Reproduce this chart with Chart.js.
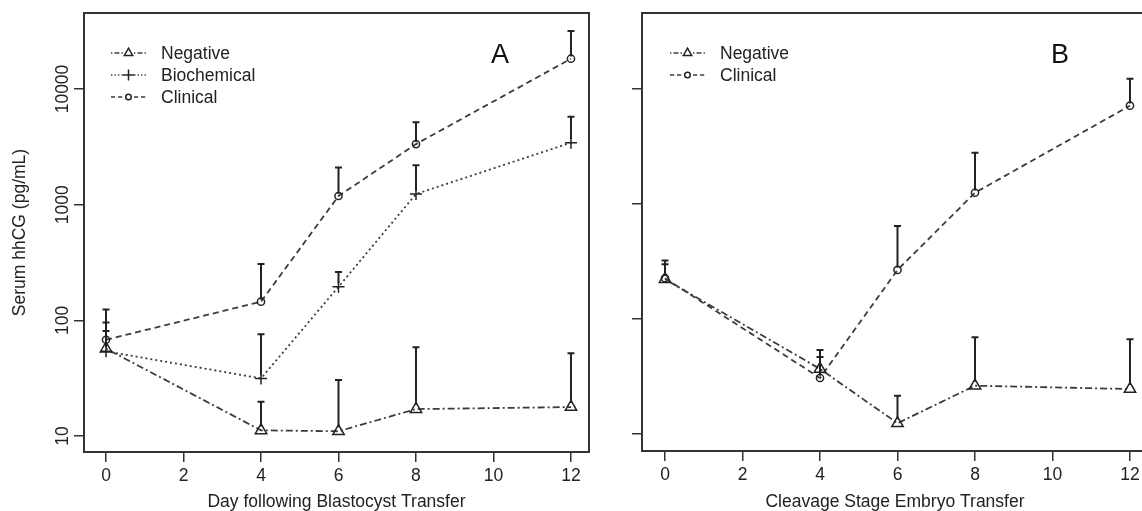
<!DOCTYPE html>
<html><head><meta charset="utf-8">
<script src="https://cdn.jsdelivr.net/npm/chart.js@4"></script>
<style>
html,body{margin:0;padding:0;background:#fff;overflow:hidden;width:1142px;height:511px;}
#a{position:absolute;left:0;top:0;}
#b{position:absolute;left:600px;top:0;}
</style></head><body>
<canvas id="a" width="600" height="511"></canvas>
<canvas id="b" width="560" height="511"></canvas>
<script>
// ---- data ----
const days = [0, 4, 6, 8, 12];
const xTicks = [0, 2, 4, 6, 8, 10, 12];
const yTicks = [10, 100, 1000, 10000];

// Panel A (blastocyst transfer)
const negA    = [57, 11.2, 11.0, 17.1, 17.8];
const negAErr = [81, 19.8, 30.5, 58.5, 51.9];
const bioA    = [54, 31.5, 195, 1236, 3435];
const bioAErr = [96, 75.7, 262, 2190, 5760];
const cliA    = [68, 145, 1188, 3340, 18270];
const cliAErr = [124, 307, 2100, 5150, 31700];

// Panel B (cleavage stage embryo transfer)
const negB    = [222, 36.8, 12.4, 26.3, 24.6];
const negBErr = [300, 53.7, 21.5, 69.3, 66.5];
const cliB    = [226, 30.7, 267, 1253, 7160];
const cliBErr = [322, 46.7, 644, 2790, 12300];

// ---- styling ----
const FONT = '"Liberation Sans", Arial, sans-serif';
const INK = '#222';
const LINE = '#3c3c3c';
const FRAME = '#333';
const STY = {
  Negative:    {pointStyle: 'triangle', radius: 6.6, legR: 4.8, dash: [2, 3, 7, 3]},
  Biochemical: {pointStyle: 'cross',    radius: 6,   legR: 5.5, dash: [2, 3]},
  Clinical:    {pointStyle: 'circle',   radius: 3.6, legR: 2.8, dash: [6, 4]}
};

function ds(name, vals, errs) {
  const s = STY[name];
  return {
    label: name,
    data: days.map((d, i) => ({x: d, y: vals[i]})),
    err: errs,
    borderColor: LINE, borderWidth: 1.8, borderDash: s.dash,
    pointStyle: s.pointStyle, pointRadius: s.radius, pointHoverRadius: s.radius,
    pointBorderColor: INK, pointBorderWidth: 1.5,
    pointBackgroundColor: 'rgba(0,0,0,0)',
    fill: false, tension: 0
  };
}

const framePlugin = {
  id: 'frame',
  afterDraw(chart) {
    const {ctx, chartArea: a} = chart;
    ctx.save();
    ctx.strokeStyle = FRAME; ctx.lineWidth = 2;
    ctx.strokeRect(a.left, a.top, a.right - a.left, a.bottom - a.top);
    ctx.restore();
  }
};

const errPlugin = {
  id: 'errbars',
  afterDatasetsDraw(chart) {
    const {ctx} = chart;
    const xs = chart.scales.x, ys = chart.scales.y;
    ctx.save();
    ctx.strokeStyle = INK; ctx.lineWidth = 2; ctx.setLineDash([]);
    chart.data.datasets.forEach(d => {
      d.err.forEach((e, i) => {
        const x = xs.getPixelForValue(days[i]);
        const y0 = ys.getPixelForValue(d.data[i].y) - d.pointRadius * 0.6;
        const y1 = ys.getPixelForValue(e);
        ctx.beginPath();
        ctx.moveTo(x, y0); ctx.lineTo(x, y1);
        ctx.moveTo(x - 3.5, y1); ctx.lineTo(x + 3.5, y1);
        ctx.stroke();
      });
    });
    ctx.restore();
  }
};

function decorPlugin(cfg) {
  return {
    id: 'decor',
    afterDraw(chart) {
      const {ctx} = chart;
      ctx.save();
      // legend
      cfg.legend.forEach((name, i) => {
        const s = STY[name];
        const y = cfg.legY + i * 22;
        ctx.strokeStyle = LINE; ctx.lineWidth = 1.5;
        ctx.setLineDash(s.dash.map(v => v * 0.7));
        ctx.beginPath();
        ctx.moveTo(cfg.legX, y); ctx.lineTo(cfg.legX + 12, y);
        ctx.moveTo(cfg.legX + 23, y); ctx.lineTo(cfg.legX + 35, y);
        ctx.stroke();
        ctx.setLineDash([]);
        ctx.strokeStyle = INK; ctx.fillStyle = 'rgba(0,0,0,0)';
        Chart.helpers.drawPoint(ctx, {pointStyle: s.pointStyle, radius: s.legR, borderWidth: 1.3, rotation: 0}, cfg.legX + 17.5, y);
        ctx.fillStyle = INK;
        ctx.font = '17.5px ' + FONT;
        ctx.textAlign = 'left'; ctx.textBaseline = 'middle';
        ctx.fillText(name, cfg.legX + 50, y + 1);
      });
      // panel letter
      ctx.fillStyle = '#111';
      ctx.font = '27px ' + FONT;
      ctx.textAlign = 'center'; ctx.textBaseline = 'middle';
      ctx.fillText(cfg.letter, cfg.letterX, 56);
      // rotated y tick labels
      if (cfg.yLabels) {
        const ys = chart.scales.y;
        ctx.fillStyle = INK;
        ctx.font = '17.5px ' + FONT;
        ys.ticks.forEach(t => {
          const py = ys.getPixelForValue(t.value);
          ctx.save();
          ctx.translate(68, py);
          ctx.rotate(-Math.PI / 2);
          ctx.textAlign = 'center'; ctx.textBaseline = 'alphabetic';
          ctx.fillText(String(t.value), 0, 0);
          ctx.restore();
        });
      }
      ctx.restore();
    }
  };
}

function makeChart(id, datasets, o) {
  const gridOpts = {display: true, drawOnChartArea: false, drawTicks: true, tickLength: 10, color: FRAME, lineWidth: 1.5};
  return new Chart(document.getElementById(id), {
    type: 'line',
    data: {datasets},
    options: {
      responsive: false, animation: false, devicePixelRatio: 1,
      layout: {padding: {top: 13, right: o.padRight, left: 0, bottom: 0}},
      plugins: {legend: {display: false}, tooltip: {enabled: false}},
      scales: {
        x: {
          type: 'linear', min: o.xMin, max: o.xMax,
          afterBuildTicks: s => { s.ticks = xTicks.map(v => ({value: v})); },
          afterFit: s => { s.height = o.xH; },
          ticks: {font: {family: FONT, size: 17.5}, color: INK, padding: 4, maxRotation: 0, autoSkip: false},
          grid: gridOpts,
          border: {display: true, color: FRAME, width: 2},
          title: {display: true, text: o.xTitle, color: INK, font: {family: FONT, size: 17.5, lineHeight: 1}, padding: {top: 0, bottom: 0}}
        },
        y: {
          type: 'logarithmic', min: o.yMin, max: o.yMax,
          afterBuildTicks: s => { s.ticks = yTicks.map(v => ({value: v})); },
          afterFit: s => { s.width = o.yW; },
          ticks: {display: false},
          grid: gridOpts,
          border: {display: true, color: FRAME, width: 2},
          title: {display: !!o.yTitle, text: o.yTitle || '', color: INK, font: {family: FONT, size: 17.5, lineHeight: 1}, padding: {top: 11, bottom: 0}}
        }
      }
    },
    plugins: [framePlugin, errPlugin, decorPlugin(o.decor)]
  });
}

makeChart('a', [
  ds('Negative', negA, negAErr),
  ds('Biochemical', bioA, bioAErr),
  ds('Clinical', cliA, cliAErr)
], {
  padRight: 11, xH: 59, yW: 84,
  xMin: -0.568, xMax: 12.465,
  yMin: Math.pow(10, 0.862), yMax: Math.pow(10, 4.657),
  xTitle: 'Day following Blastocyst Transfer',
  yTitle: 'Serum hhCG (pg/mL)',
  decor: {legend: ['Negative', 'Biochemical', 'Clinical'], legX: 111, legY: 53, letter: 'A', letterX: 500, yLabels: true}
});

makeChart('b', [
  ds('Negative', negB, negBErr),
  ds('Clinical', cliB, cliBErr)
], {
  padRight: 12, xH: 60, yW: 42,
  xMin: -0.594, xMax: 12.465,
  yMin: Math.pow(10, 0.852), yMax: Math.pow(10, 4.661),
  xTitle: 'Cleavage Stage Embryo Transfer',
  yTitle: null,
  decor: {legend: ['Negative', 'Clinical'], legX: 70, legY: 53, letter: 'B', letterX: 460, yLabels: false}
});
</script>
</body></html>
